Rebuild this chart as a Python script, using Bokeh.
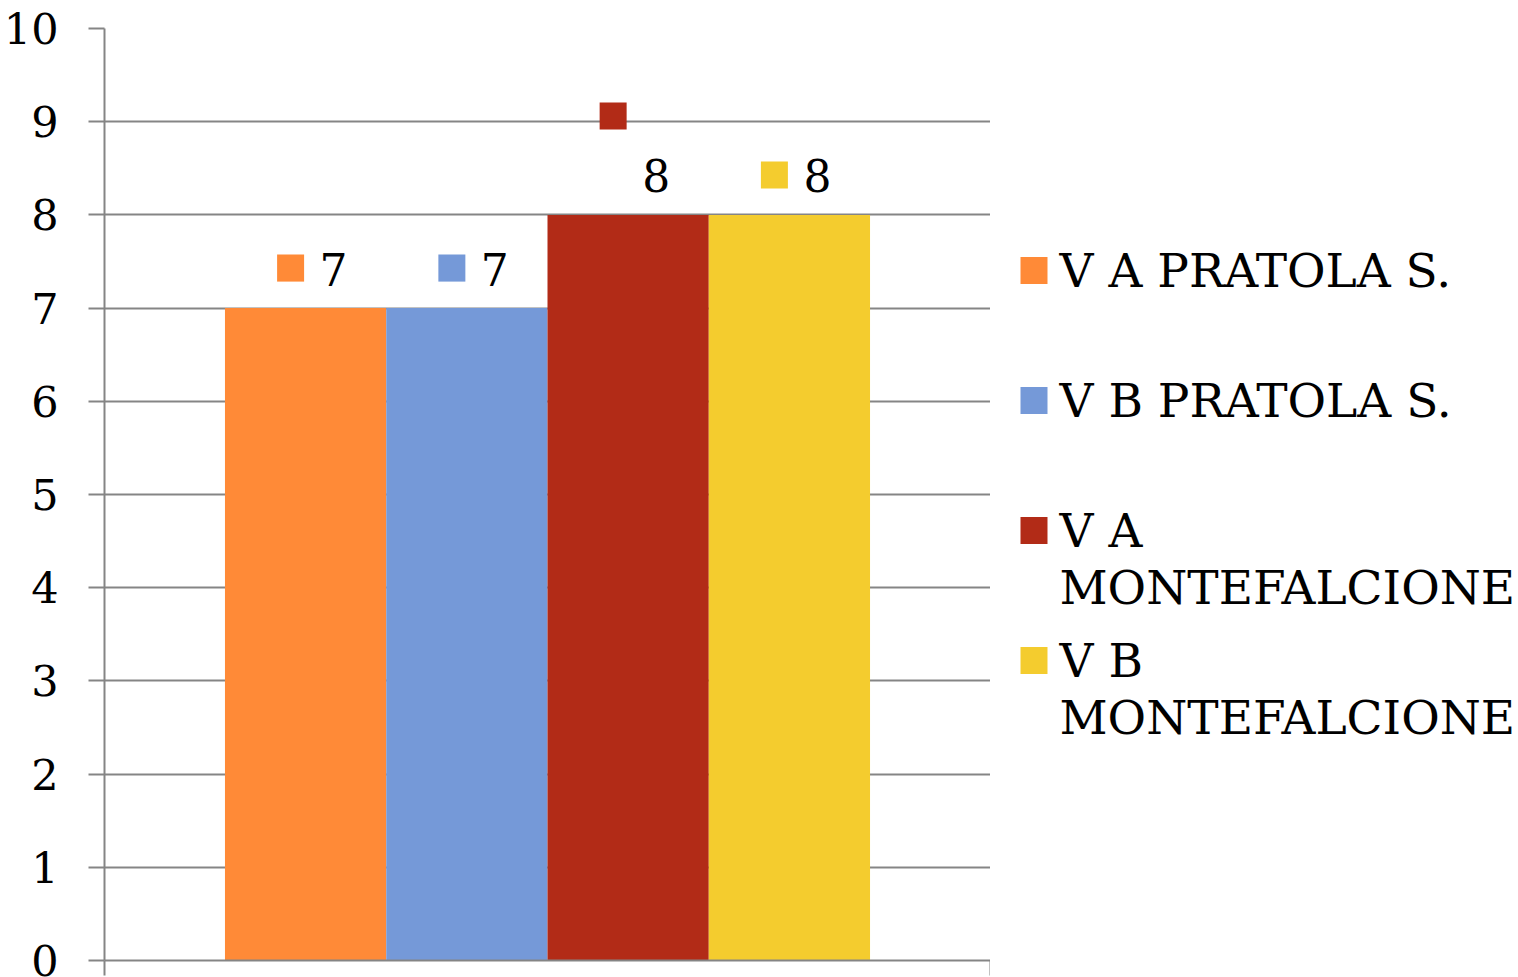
import textwrap
from bokeh.plotting import figure
from bokeh.models import Range1d, FixedTicker, CustomJSTickFormatter, ColumnDataSource
from bokeh.layouts import row
from bokeh.core.properties import value
from bokeh.embed import file_html
from bokeh.resources import INLINE

# ---- data ----
series = ["V A PRATOLA S.", "V B PRATOLA S.", "V A MONTEFALCIONE", "V B MONTEFALCIONE"]
values = [7, 7, 8, 8]
colors = ["#FF8A37", "#7599D8", "#B22B17", "#F4CC2E"]
y_ticks = [0, 1, 2, 3, 4, 5, 6, 7, 8, 9, 10]

# ---- styling ----
FONT = "DejaVu Serif"
GRID = "#858585"
TOP, BOTTOM, LEFT = 28, 17, 104
FRAME_W, FRAME_H = 886, 932
H = TOP + FRAME_H + BOTTOM
X_PAD = 0.747
x0, x1 = -X_PAD, len(values) + X_PAD
y0, y1 = y_ticks[0], y_ticks[-1]
px_x = FRAME_W / (x1 - x0)
px_y = FRAME_H / (y1 - y0)
key_dy_px = [40, 40, 99, 40]   # data-label key square vertical offset (px above bar top)
TEXT_DY = 17                   # baseline correction (px)

xs = [i + 0.5 for i in range(len(values))]
src = ColumnDataSource(dict(x=xs, top=values, color=colors, name=series))

p = figure(width=LEFT + FRAME_W, height=H, x_range=Range1d(x0, x1), y_range=Range1d(y0, y1),
           title=None, output_backend="svg", toolbar_location=None,
           min_border_left=LEFT, min_border_right=0, min_border_top=TOP, min_border_bottom=BOTTOM)
p.outline_line_color = None
p.background_fill_color = "white"
p.border_fill_color = "white"

p.vbar(x="x", top="top", bottom=0, width=1.0, color="color", line_color=None, source=src)

# data labels: key square + value text
key_x = [x - 15 / px_x for x in xs]
key_y = [v + d / px_y for v, d in zip(values, key_dy_px)]
p.rect(x=key_x, y=key_y, width=27, height=27, width_units="screen", height_units="screen",
       fill_color=colors, line_color=None)
lab_x = [x + 14 / px_x for x in xs]
lab_y = [v + (22 + TEXT_DY) / px_y for v in values]
p.text(x=lab_x, y=lab_y, text=[str(v) for v in values], text_font=value(FONT),
       text_font_size="44px", text_align="left", text_baseline="alphabetic", text_color="black")

# y axis
ya = p.yaxis[0]
ya.ticker = FixedTicker(ticks=y_ticks)
ya.axis_line_color = GRID
ya.axis_line_width = 2
ya.major_tick_line_color = GRID
ya.major_tick_line_width = 2
ya.major_tick_out = 16
ya.major_tick_in = 0
ya.minor_tick_line_color = None
ya.major_label_text_font = FONT
ya.major_label_text_font_size = "43px"
ya.major_label_text_color = "black"
ya.major_label_standoff = 30

# x axis (category axis without labels)
xa = p.xaxis[0]
xa.ticker = FixedTicker(ticks=[x0, x1])
xa.formatter = CustomJSTickFormatter(code="return ''")
xa.axis_line_color = GRID
xa.axis_line_width = 2
xa.major_tick_line_color = GRID
xa.major_tick_line_width = 2
xa.major_tick_out = 15
xa.major_tick_in = 0
xa.minor_tick_line_color = None
xa.major_label_text_font_size = "1px"
xa.major_label_standoff = 0

p.ygrid.ticker = FixedTicker(ticks=y_ticks)
p.ygrid.grid_line_color = GRID
p.ygrid.grid_line_width = 2
p.xgrid.visible = False

# ---- legend (separate panel, frame aligned with the chart's frame) ----
LW = 1518 - (LEFT + FRAME_W)
q = figure(width=LW, height=H, x_range=Range1d(0, LW), y_range=Range1d(TOP + FRAME_H, TOP),
           title=None, x_axis_type=None, y_axis_type=None, output_backend="svg",
           toolbar_location=None, min_border_left=0, min_border_right=0,
           min_border_top=TOP, min_border_bottom=BOTTOM)
q.outline_line_color = None
q.background_fill_color = "white"
q.border_fill_color = "white"

entry_y = [270 + 130 * i for i in range(len(series))]
q.rect(x=[43.5] * len(series), y=entry_y, width=27, height=27,
       fill_color=colors, line_color=None)
tx, ty, tt = [], [], []
for yy, name in zip(entry_y, series):
    for j, line in enumerate(textwrap.wrap(name, 14)):
        tx.append(69)
        ty.append(yy + 18 - 18 + 57 * j)
        tt.append(line)
q.text(x=tx, y=ty, text=tt, text_font=value(FONT), text_font_size="47px",
       text_align="left", text_baseline="alphabetic", text_color="black")

layout = row(p, q)
open("out.html", "w").write(file_html(layout, INLINE))
